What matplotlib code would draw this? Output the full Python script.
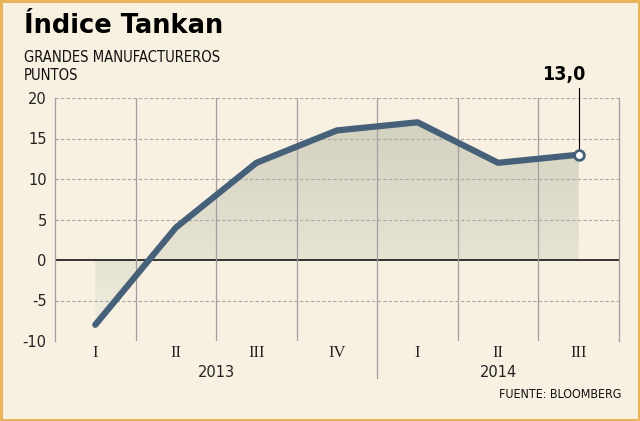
import matplotlib.pyplot as plt
import numpy as np
from matplotlib.patches import Rectangle, Polygon
from matplotlib.colors import LinearSegmentedColormap

quarters = ["I", "II", "III", "IV", "I", "II", "III"]
years = ["2013", "2014"]
values = [-8, 4, 12, 16, 17, 12, 13]
yticks = [-10, -5, 0, 5, 10, 15, 20]

bg = "#f8f0e0"
line_col = "#46607a"

fig = plt.figure(figsize=(6.4, 4.21), dpi=100, facecolor=bg)
fig.patches.append(Rectangle((0.002, 0.003), 0.996, 0.994, transform=fig.transFigure,
                             fill=False, edgecolor="#e8b45c", linewidth=2.2))

ax = fig.add_axes([55 / 640, 80 / 421, 564 / 640, 243 / 421])
ax.set_facecolor(bg)
x = np.arange(len(values))
ax.set_xlim(-0.5, len(values) - 0.5)
ax.set_ylim(-10, 20)

# relleno con degradado entre la linea y el cero
verts = [(0, 0)] + list(zip(x, values)) + [(x[-1], 0)]
poly = Polygon(verts, closed=True, facecolor="none", edgecolor="none")
ax.add_patch(poly)
grad = np.linspace(0, 1, 256).reshape(-1, 1)
cmap = LinearSegmentedColormap.from_list("g", ["#f3eedf", "#cfcebb"])
img = ax.imshow(grad, cmap=cmap, extent=(0, x[-1], -10, 20), origin="lower",
                aspect="auto", zorder=1)
img.set_clip_path(poly)

for yv in yticks:
    if yv == 0:
        ax.axhline(0, color="black", linewidth=1.1, zorder=2)
    else:
        ax.axhline(yv, color="#a8a8a8", linewidth=0.8, linestyle=(0, (3, 2)), zorder=2)
for xv in np.arange(0.5, len(values) - 0.5, 1):
    ax.axvline(xv, color="#a0a0a0", linewidth=0.9, zorder=2)

for s in ["top", "bottom"]:
    ax.spines[s].set_visible(False)
for s in ["left", "right"]:
    ax.spines[s].set_color("#a0a0a0")
    ax.spines[s].set_linewidth(0.9)

ax.plot(x, values, color=line_col, linewidth=4.5, solid_capstyle="round",
        solid_joinstyle="round", zorder=4)
ax.plot(x[-1], values[-1], "o", markersize=7, markerfacecolor="white",
        markeredgecolor=line_col, markeredgewidth=2, zorder=5)

ax.set_yticks(yticks)
ax.set_yticklabels([str(v) for v in yticks], fontsize=10.5, color="#222222")
ax.tick_params(axis="y", length=0, pad=6)
ax.set_xticks(x)
ax.set_xticklabels(quarters, fontsize=12, family="Liberation Serif", color="#222222")
ax.tick_params(axis="x", length=0, pad=3)

# etiquetas de año y separador
ax.text(1.5, -13.9, years[0], ha="center", va="center", fontsize=10.5, color="#222222")
ax.text(5.0, -13.9, years[1], ha="center", va="center", fontsize=10.5, color="#222222")
ax.plot([3.5, 3.5], [-10, -14.6], color="#a0a0a0", linewidth=0.9, clip_on=False)

# anotacion del ultimo valor
ax.plot([x[-1], x[-1]], [values[-1] + 0.7, 21.25], color="black", linewidth=0.8,
        clip_on=False, zorder=3)
ax.text(x[-1] - 0.19, 22.85, f"{values[-1]:.1f}".replace(".", ","), ha="center",
        va="center", fontsize=14, fontweight="bold", fontstretch="condensed",
        color="black")

fig.text(24 / 640, 1 - 26 / 421, "Índice Tankan", fontsize=18.5, fontweight="bold",
         va="center", ha="left", color="black")
fig.text(24 / 640, 1 - 58 / 421, "GRANDES MANUFACTUREROS", fontsize=10.6,
         fontstretch="condensed", va="center", ha="left", color="#111111")
fig.text(24 / 640, 1 - 76 / 421, "PUNTOS", fontsize=10.6, fontstretch="condensed",
         va="center", ha="left", color="#111111")
fig.text(621 / 640, 1 - 395 / 421, "FUENTE: BLOOMBERG", fontsize=8.9,
         fontstretch="condensed", va="center", ha="right", color="#111111")

fig.savefig("out.png", dpi=100, facecolor=bg)
